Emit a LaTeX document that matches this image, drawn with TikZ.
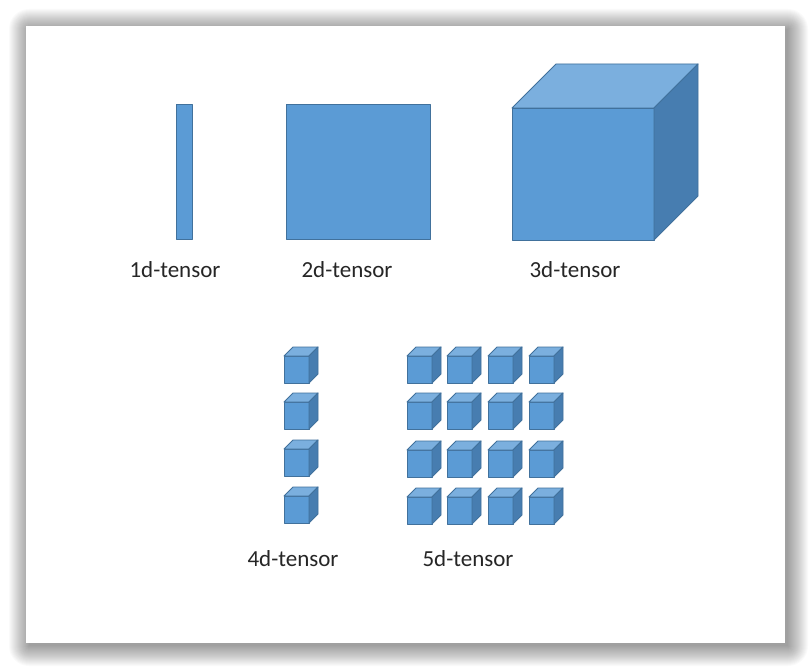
\documentclass[tikz,border=0pt]{standalone}
\usepackage{fontspec}
\setmainfont{Carlito}
\definecolor{facec}{HTML}{5B9BD5}
\definecolor{topc}{HTML}{7BAFDE}
\definecolor{sidec}{HTML}{477DB0}
\definecolor{edgec}{HTML}{41719C}
\tikzset{
  facestyle/.style={fill=facec,draw=edgec,line width=0.9pt,line join=round},
  topstyle/.style={fill=topc,draw=edgec,line width=0.9pt,line join=round},
  sidestyle/.style={fill=sidec,draw=edgec,line width=0.9pt,line join=round},
  lbl/.style={font=\fontsize{23}{26}\selectfont,anchor=base,inner sep=0pt,text=black!85}
}
% x, y (top-left of front face), width, height, depth
\newcommand\tcube[5]{%
  \path[facestyle] (#1,#2) rectangle ++(#3,#4);
  \path[topstyle] (#1,#2) -- ++(#5,-#5) -- ++(#3,0) -- ++(-#5,#5) -- cycle;
  \path[sidestyle] (#1+#3,#2) -- ++(#5,-#5) -- ++(0,#4) -- ++(-#5,#5) -- cycle;
}
\begin{document}
\begin{tikzpicture}[x=1pt,y=-1pt]
\useasboundingbox (0,0) rectangle (810,668);
\fill[white] (0,0) rectangle (810,668);
% page shadow
\foreach \i in {0,...,20}{
  \fill[black,opacity=0.02,rounded corners=\i pt] (29-\i,29-\i) rectangle (788+\i,646+\i);
}
\fill[white] (26,26) rectangle (785,643);
% 1d tensor
\path[facestyle] (176,104) rectangle (192,239);
% 2d tensor
\path[facestyle] (286,104) rectangle (430,239);
% 3d tensor
\tcube{512}{108}{142}{132}{44}
% 4d tensor
\foreach \y in {356,402,449,496}{
  \tcube{284}{\y}{25}{27}{9}
}
% 5d tensor
\foreach \x in {407,447,488,529}{
  \foreach \y in {356,402,450,497}{
    \tcube{\x}{\y}{25}{27}{9}
  }
}
% labels
\node[lbl] (l1) at (175,277) {1d-tensor};
\node[lbl] (l2) at (347,277) {2d-tensor};
\node[lbl] (l3) at (575,277) {3d-tensor};
\node[lbl] (l4) at (293,566) {4d-tensor};
\node[lbl] (l5) at (468,566) {5d-tensor};
\end{tikzpicture}
\end{document}
